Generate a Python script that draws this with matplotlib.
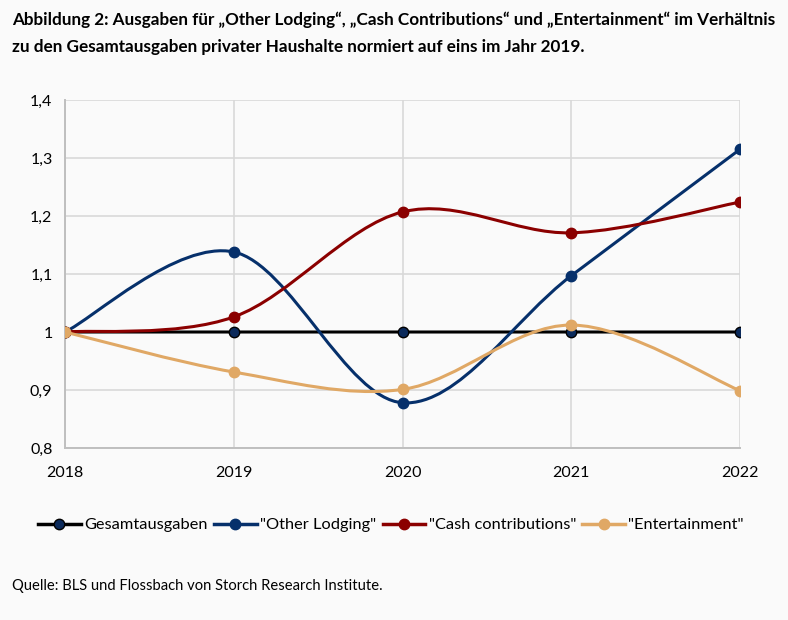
import matplotlib
matplotlib.use("Agg")
import matplotlib.pyplot as plt
from matplotlib.path import Path
from matplotlib.patches import PathPatch
from matplotlib.lines import Line2D
import numpy as np

plt.rcParams['font.family'] = ['Lato', 'DejaVu Sans']

years = [2018, 2019, 2020, 2021, 2022]
gesamt = [1.0, 1.0, 1.0, 1.0, 1.0]
lodging = [1.0, 1.138, 0.878, 1.097, 1.315]
cash = [1.0, 1.026, 1.207, 1.171, 1.224]
entertain = [1.0, 0.931, 0.901, 1.012, 0.899]

series = [
    ("Gesamtausgaben", gesamt, "#000000", "#0B2A5B", "#000000"),
    ('"Other Lodging"', lodging, "#06306B", "#06306B", "#06306B"),
    ('"Cash contributions"', cash, "#8B0000", "#8B0000", "#8B0000"),
    ('"Entertainment"', entertain, "#E0A865", "#E0A865", "#E0A865"),
]

bg = "#FAFAFA"
fig = plt.figure(figsize=(7.88, 6.2), dpi=100, facecolor=bg)
ax = fig.add_axes([65/788, 1-448/620, (740-65)/788, (448-100)/620])
ax.set_facecolor(bg)


def smooth_path(xs, ys):
    xs = np.asarray(xs, float)
    ys = np.asarray(ys, float)
    n = len(xs)
    verts = [(xs[0], ys[0])]
    codes = [Path.MOVETO]
    for i in range(n - 1):
        i0 = max(i - 1, 0)
        i3 = min(i + 2, n - 1)
        c1 = (xs[i] + (xs[i+1] - xs[i0]) / 6, ys[i] + (ys[i+1] - ys[i0]) / 6)
        c2 = (xs[i+1] - (xs[i3] - xs[i]) / 6, ys[i+1] - (ys[i3] - ys[i]) / 6)
        verts += [c1, c2, (xs[i+1], ys[i+1])]
        codes += [Path.CURVE4] * 3
    return Path(verts, codes)


handles = []
for z, (name, vals, lc, mfc, mec) in enumerate(series):
    p = PathPatch(smooth_path(years, vals), facecolor="none", edgecolor=lc,
                  lw=2.2, zorder=3 + z, capstyle="round")
    ax.add_patch(p)
    ax.plot(years, vals, ls="none", marker="o", ms=7.5, mfc=mfc, mec=mec,
            mew=1.0, zorder=3.5 + z)
    handles.append(Line2D([], [], color=lc, lw=2.5, marker="o", ms=7.5,
                          mfc=mfc, mec=mec, mew=1.0, label=name))

ax.set_xlim(2018, 2022)
ax.set_ylim(0.8, 1.4)
ax.set_xticks(years)
ax.set_xticklabels([str(y) for y in years])
yt = [0.8, 0.9, 1.0, 1.1, 1.2, 1.3, 1.4]
ax.set_yticks(yt)
ax.set_yticklabels(["0,8", "0,9", "1", "1,1", "1,2", "1,3", "1,4"])
ax.grid(True, color="#D9D9D9", lw=1.2, zorder=0)
ax.set_axisbelow(True)
for s in ["top", "right"]:
    ax.spines[s].set_visible(False)
for s in ["left", "bottom"]:
    ax.spines[s].set_color("#BFBFBF")
    ax.spines[s].set_linewidth(1.4)
ax.tick_params(length=0, labelsize=11.5, colors="#000000")
ax.tick_params(axis="x", pad=13)
ax.tick_params(axis="y", pad=9)

fig.text(12/788, 1-20/620, "Abbildung 2: Ausgaben für „Other Lodging“, „Cash Contributions“ und „Entertainment“ im Verhältnis",
         fontsize=12.3, fontweight="bold", va="center", ha="left")
fig.text(12/788, 1-47/620, "zu den Gesamtausgaben privater Haushalte normiert auf eins im Jahr 2019.",
         fontsize=12.3, fontweight="bold", va="center", ha="left")

fig.legend(handles=handles, loc="center", bbox_to_anchor=(391/788, 1-525/620),
           ncol=4, frameon=False, fontsize=11.8, handlelength=2.6,
           columnspacing=0.4, handletextpad=0.2)

fig.text(12/788, 1-586/620, "Quelle: BLS und Flossbach von Storch Research Institute.",
         fontsize=10.6, va="center", ha="left")

fig.savefig("out.png", dpi=100, facecolor=bg)
